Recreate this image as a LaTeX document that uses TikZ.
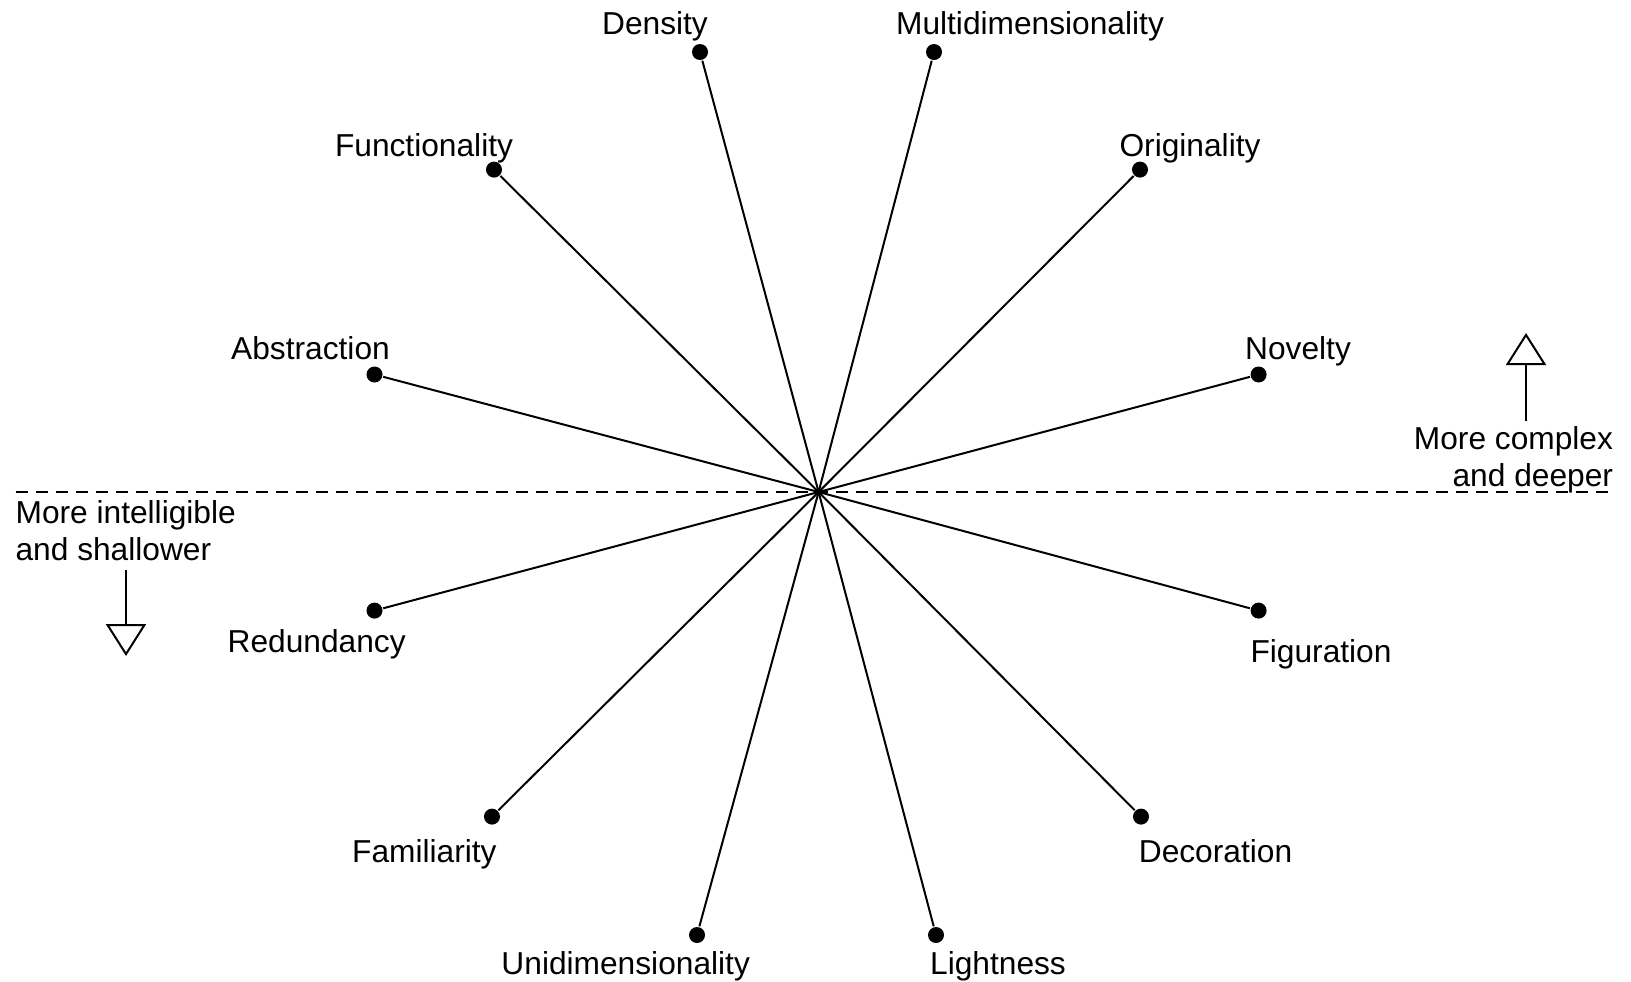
\documentclass[tikz,border=0pt]{standalone}
\usepackage{fontspec}
\setmainfont{Liberation Sans}
\usetikzlibrary{arrows.meta}
\tikzset{
    dot/.style={circle, fill=black, inner sep=0pt, minimum size=8pt},
    lbl/.style={inner sep=0pt, anchor=base, font=\fontsize{15.85}{18.5}\selectfont},
    trend/.style={line width=1pt, -{Triangle[open, width=20pt, length=16pt, line width=1pt]}}
}
\begin{document}
\begin{tikzpicture}[x=0.5pt, y=-0.5pt, line width=1pt]
    \useasboundingbox (0,0) rectangle (1631,981);
    % centre and the dashed divider
    \coordinate (c) at (818.6,492);
    \coordinate (divl) at (15.6,492);
    \coordinate (divr) at (1612,492);
    \draw[dashed, dash pattern=on 6pt off 4pt] (divl) -- (divr);
    % end points of the dimensions
    \node[dot] (den) at (700,52) {};
    \node[dot] (mul) at (934,52) {};
    \node[dot] (fun) at (494,169.6) {};
    \node[dot] (ori) at (1140,169.6) {};
    \node[dot] (abs) at (374.5,374.5) {};
    \node[dot] (nov) at (1258.6,374.5) {};
    \node[dot] (red) at (374.5,610.6) {};
    \node[dot] (fig) at (1258.6,610.6) {};
    \node[dot] (fam) at (492,816.6) {};
    \node[dot] (dec) at (1141,816.6) {};
    \node[dot] (uni) at (697,935) {};
    \node[dot] (lig) at (936,935) {};
    % spokes
    \draw (c) -- (den);
    \draw (c) -- (mul);
    \draw (c) -- (fun);
    \draw (c) -- (ori);
    \draw (c) -- (abs);
    \draw (c) -- (nov);
    \draw (c) -- (red);
    \draw (c) -- (fig);
    \draw (c) -- (fam);
    \draw (c) -- (dec);
    \draw (c) -- (uni);
    \draw (c) -- (lig);
    % labels
    \node[lbl] (denl) at (655,34.5) {Density};
    \node[lbl] (mull) at (1030,34.5) {Multidimensionality};
    \node[lbl] (funl) at (424,156) {Functionality};
    \node[lbl] (oril) at (1190,156) {Originality};
    \node[lbl] (absl) at (310.5,359) {Abstraction};
    \node[lbl] (novl) at (1298,359) {Novelty};
    \node[lbl] (redl) at (316.7,652) {Redundancy};
    \node[lbl] (figl) at (1321,662.5) {Figuration};
    \node[lbl] (faml) at (424.4,862.5) {Familiarity};
    \node[lbl] (decl) at (1215.5,862.5) {Decoration};
    \node[lbl] (unil) at (625.7,974.5) {Unidimensionality};
    \node[lbl] (ligl) at (998,974.5) {Lightness};
    % direction hints
    \node[lbl, anchor=base east, align=right] (deep) at (1614,486.5) {More complex\\and deeper};
    \node[lbl, anchor=base west, align=left] (shal) at (14.6,560.5) {More intelligible\\and shallower};
    \coordinate (upfrom) at (1526,421);
    \coordinate (upto) at (1526,333);
    \coordinate (dnfrom) at (126,570);
    \coordinate (dnto) at (126,656);
    \draw[trend] (upfrom) -- (upto);
    \draw[trend] (dnfrom) -- (dnto);
\end{tikzpicture}
\end{document}
